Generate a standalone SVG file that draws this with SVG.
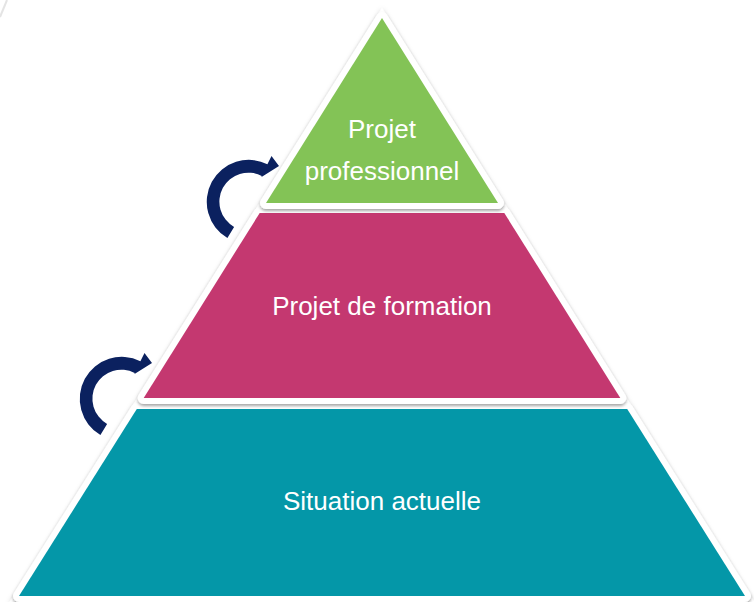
<svg xmlns="http://www.w3.org/2000/svg" width="754" height="602" viewBox="0 0 754 602">
  <defs>
    <filter id="sh" x="-10%" y="-10%" width="120%" height="130%">
      <feDropShadow dx="0" dy="2" stdDeviation="1.5" flood-color="#000" flood-opacity="0.35"/>
    </filter>
    <filter id="bgsh" x="-10%" y="-10%" width="120%" height="120%">
      <feDropShadow dx="0" dy="1" stdDeviation="2.5" flood-color="#000" flood-opacity="0.18"/>
    </filter>
  </defs>
  <style>
    .frame { fill: #ffffff; stroke: #ffffff; stroke-width: 12; stroke-linejoin: round; filter: url(#sh); }
    .lbl { font-family: "Liberation Sans", Arial, sans-serif; font-size: 26px; fill: #ffffff; text-anchor: middle; }
    .arrow { fill: #0b215f; }
  </style>
  <rect width="754" height="602" fill="#ffffff"/>
  <path d="M7,0 L0,17" stroke="#e4e4e4" stroke-width="2" fill="none"/>
  <polygon points="382,8 9,603 755,603" fill="#ffffff" filter="url(#bgsh)"/>

  <g id="node-situation">
    <polygon class="frame" points="136.8,409 627.2,409 745,596 19,596"/>
    <polygon points="136.8,409 627.2,409 745,596 19,596" fill="#0497a8"/>
    <text class="lbl" x="382" y="510">Situation actuelle</text>
  </g>

  <g id="node-formation">
    <polygon class="frame" points="259.7,213 504.3,213 620.3,398 143.7,398"/>
    <polygon points="259.7,213 504.3,213 620.3,398 143.7,398" fill="#c43870"/>
    <text class="lbl" x="382" y="315">Projet de formation</text>
  </g>

  <g id="node-professionnel">
    <polygon class="frame" points="382,18 498,203 266,203"/>
    <polygon points="382,18 498,203 266,203" fill="#83c356"/>
    <text class="lbl" x="382" y="138">Projet</text>
    <text class="lbl" x="382" y="180">professionnel</text>
  </g>

  <g id="connectors">
    <path class="arrow" d="M227.4,238 A42,42 0 0 1 267.4,164.2 L271.5,156 L279,166 L261.5,177 L261.7,175.9 A29,29 0 0 0 234.1,226.9 Z"/>
    <path class="arrow" transform="translate(-127,197)" d="M227.4,238 A42,42 0 0 1 267.4,164.2 L271.5,156 L279,166 L261.5,177 L261.7,175.9 A29,29 0 0 0 234.1,226.9 Z"/>
  </g>
</svg>
